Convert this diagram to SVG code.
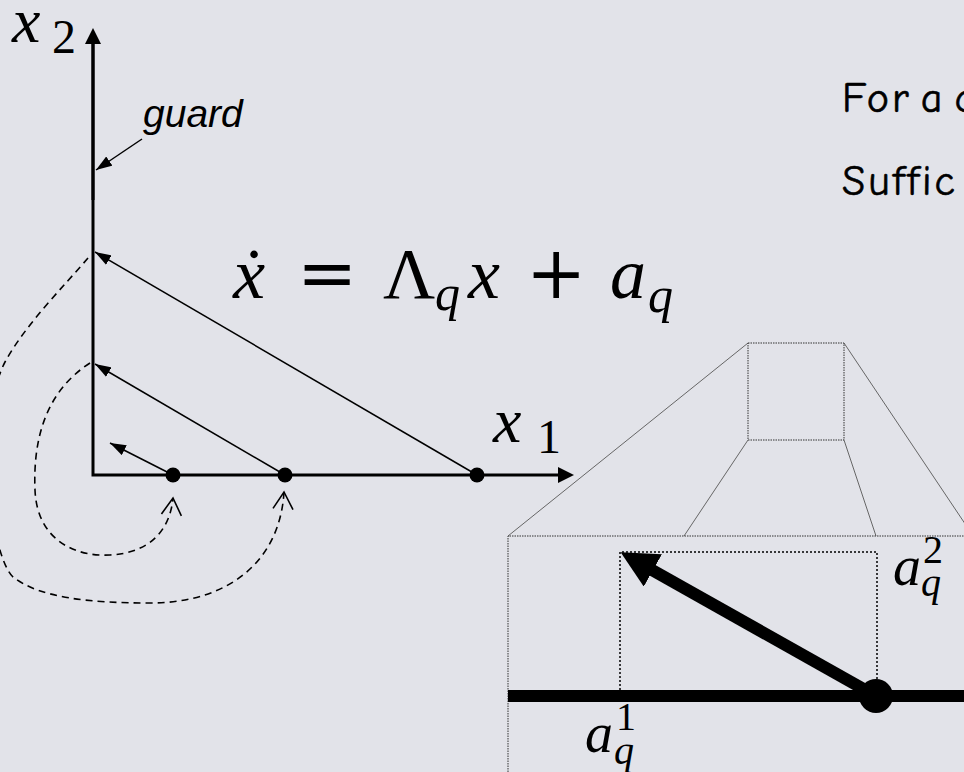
<svg xmlns="http://www.w3.org/2000/svg" width="964" height="772" viewBox="0 0 964 772">
<style>
.math{font-family:"Liberation Serif","DejaVu Serif",serif;fill:#000}
.it{font-style:italic}
.op{font-family:"DejaVu Serif","Liberation Serif",serif}
.hand{font-family:"Comic Sans MS","Comic Neue","Noto Sans",sans-serif;font-size:42px;letter-spacing:3px;word-spacing:-8px;fill:#000;stroke:#000;stroke-width:0.6}
.thin{stroke:#000;stroke-width:1.5;fill:none}
.axis{stroke:#000;stroke-width:3;fill:none}
.dash{stroke:#000;stroke-width:1.6;fill:none;stroke-dasharray:7 5}
.gray{stroke:#666;stroke-width:1;fill:none}
.dot1{stroke:#333;stroke-width:1;fill:none;stroke-dasharray:1.5 1}
.dot2{stroke:#000;stroke-width:1.5;fill:none;stroke-dasharray:2 2}
</style>
<defs>
<marker id="axHead" markerUnits="userSpaceOnUse" markerWidth="16" markerHeight="16" viewBox="0 0 16 16" refX="0" refY="8" orient="auto"><path d="M0,0 L16,8 L0,16 z" fill="#000"/></marker>
<marker id="head" markerUnits="userSpaceOnUse" markerWidth="16" markerHeight="11" viewBox="0 0 16 11" refX="16" refY="5.5" orient="auto"><path d="M0,0 L16,5.5 L0,11 z" fill="#000"/></marker>
<marker id="open" markerUnits="userSpaceOnUse" markerWidth="20" markerHeight="22" viewBox="-1 -1 20 22" refX="17" refY="10" orient="auto"><path d="M0,0 L17,10 L0,20" fill="none" stroke="#000" stroke-width="1.6"/></marker>
<marker id="bigHead" markerUnits="userSpaceOnUse" markerWidth="37" markerHeight="37" viewBox="0 0 37 37" refX="1" refY="18.5" orient="auto"><path d="M0,0 L37,18.5 L0,37 z" fill="#000"/></marker>
</defs>
<rect width="964" height="772" fill="#e2e3e9"/>

<g id="axes">
<path class="axis" d="M93,44 L93,475 L558,475" marker-end="url(#axHead)"/>
<path class="axis" d="M93,200 L93,44" marker-end="url(#axHead)"/>
</g>

<g id="labels">
<text class="math" x="12" y="42"><tspan class="it" font-size="64">x</tspan><tspan x="52" y="53" font-size="48">2</tspan></text>
<text class="math" x="493" y="442"><tspan class="it" font-size="64">x</tspan><tspan x="537" y="453" font-size="48">1</tspan></text>
<text x="143" y="127" font-family="'Liberation Sans',Arial,sans-serif" font-style="italic" font-size="39">guard</text>
</g>

<g id="equation">
<text class="math" y="298" font-size="72"><tspan class="it" x="233">ẋ</tspan><tspan class="op" x="297">=</tspan><tspan x="383">Λ</tspan><tspan class="it" x="435" y="310" font-size="50">q</tspan><tspan class="it" x="468" y="298">x</tspan><tspan class="op" x="526">+</tspan><tspan class="it" x="610">a</tspan><tspan class="it" x="648" y="312" font-size="50">q</tspan></text>
</g>

<g id="text-right">
<text class="hand" x="842" y="112">For a c</text>
<text class="hand" x="842" y="195">Suffic</text>
</g>

<g id="points">
<circle cx="173" cy="475" r="7.5"/>
<circle cx="285" cy="475" r="7.5"/>
<circle cx="477" cy="475" r="7.5"/>
</g>

<g id="connectors">
<path class="thin" d="M142,139 L96,170" marker-end="url(#head)"/>
<path class="thin" d="M477,475 L95,252" marker-end="url(#head)"/>
<path class="thin" d="M285,475 L95,364" marker-end="url(#head)"/>
<path class="thin" d="M173,475 L110,443" marker-end="url(#head)"/>
<path class="dash" d="M90,363 C45,392 33,440 35,490 C37,540 75,557 110,555 C150,553 170,530 173,498" marker-end="url(#open)"/>
<path class="dash" d="M88,258 C65,285 25,325 5,362 C-25,420 -10,555 13,577 C40,598 90,603 150,603 C230,603 280,560 284,492" marker-end="url(#open)"/>
</g>

<g id="zoom">
<path class="gray" d="M748,343 L508,536 M844,343 L1000,576 M748,440 L684,536 M844,440 L876,536"/>
<rect class="dot1" x="748" y="343" width="96" height="97"/>
<path class="dot1" d="M508,772 L508,536 L964,536"/>
<path class="dot2" d="M620,690 L620,552 L877,552 L877,680"/>
<path d="M508,696 L964,696" stroke="#000" stroke-width="12"/>
<path d="M876,696 L652,570" stroke="#000" stroke-width="12" marker-end="url(#bigHead)"/>
<circle cx="876" cy="696" r="17"/>
<text class="math"><tspan class="it" x="893" y="585" font-size="56">a</tspan><tspan x="923" y="563" font-size="40">2</tspan><tspan class="it" x="921" y="596" font-size="40">q</tspan></text>
<text class="math"><tspan class="it" x="585" y="752" font-size="56">a</tspan><tspan x="616" y="730" font-size="40">1</tspan><tspan class="it" x="614" y="764" font-size="40">q</tspan></text>
</g>
</svg>
